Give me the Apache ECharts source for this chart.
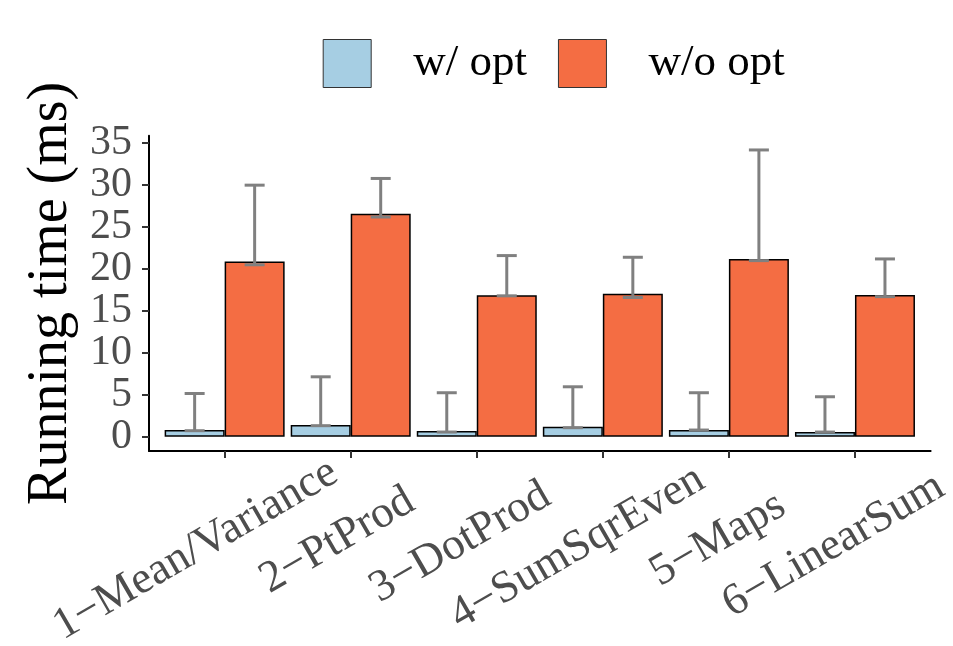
<!DOCTYPE html>
<html>
<head>
<meta charset="utf-8">
<script src="https://cdn.jsdelivr.net/npm/echarts@6/dist/echarts.min.js"></script>
<style>html,body{margin:0;padding:0;background:#fff}#c{width:953px;height:646px}</style>
</head>
<body>
<div id="c"></div>
<script>
const categories = ['1−Mean/Variance', '2−PtProd', '3−DotProd', '4−SumSqrEven', '5−Maps', '6−LinearSum'];
const seriesNames = ['w/ opt', 'w/o opt'];
const wOpt    = [0.79, 1.38, 0.67, 1.19, 0.79, 0.55];
const wOptLo  = [0.71, 1.31, 0.55, 1.07, 0.79, 0.55];
const wOptHi  = [5.15, 7.14, 5.24, 5.95, 5.24, 4.76];
const woOpt   = [20.9, 26.6, 16.86, 17.06, 21.2, 16.9];
const woOptLo = [20.5, 26.2, 16.8, 16.6, 21.0, 16.7];
const woOptHi = [30.0, 30.8, 21.6, 21.4, 34.2, 21.2];
const yTicks  = [0, 5, 10, 15, 20, 25, 30, 35];

const FONT = '"Liberation Serif", "Times New Roman", serif';
const BAR_W = 60;
const CAP = 20;
const XFS = 45;
const H = 0.62;   // fraction along label text that sits on the tick
const SHIFT = 5;  // extra shift along the label direction (px)

const xPos = categories.map((c, i) => i + 1);

const ctx = document.createElement('canvas').getContext('2d');
ctx.font = XFS + 'px ' + FONT;
const rich = {};
categories.forEach((c, i) => {
  const w = ctx.measureText(c).width;
  const diff = 2 * SHIFT - (2 * H - 1) * w; // L - R
  const L = diff > 0 ? diff : 0;
  const R = diff < 0 ? -diff : 0;
  rich['r' + i] = { fontSize: XFS, fontFamily: FONT, color: '#4D4D4D', padding: [0, R, 0, L] };
});

function errSeries(name, lo, hi, side) {
  return {
    type: 'custom',
    name: name,
    z: 5,
    data: xPos.map((x, i) => [x, lo[i], hi[i]]),
    encode: { x: 0, y: [1, 2] },
    renderItem: function (params, api) {
      const x = api.value(0);
      const pLo = api.coord([x, api.value(1)]);
      const pHi = api.coord([x, api.value(2)]);
      const cx = pLo[0] + side * BAR_W / 2;
      const st = { stroke: '#808080', lineWidth: 3 };
      return {
        type: 'group',
        children: [
          { type: 'line', shape: { x1: cx, y1: pLo[1], x2: cx, y2: pHi[1] }, style: st },
          { type: 'line', shape: { x1: cx - CAP / 2, y1: pHi[1], x2: cx + CAP / 2, y2: pHi[1] }, style: st },
          { type: 'line', shape: { x1: cx - CAP / 2, y1: pLo[1], x2: cx + CAP / 2, y2: pLo[1] }, style: st }
        ]
      };
    }
  };
}

const chart = echarts.init(document.getElementById('c'), null, { renderer: 'canvas' });
chart.setOption({
  animation: false,
  backgroundColor: '#fff',
  legend: {
    data: seriesNames,
    left: 317.7,
    top: 34,
    icon: 'rect',
    itemWidth: 48,
    itemHeight: 48,
    itemGap: 31,
    itemStyle: { borderColor: '#333', borderWidth: 1 },
    textStyle: { fontFamily: FONT, fontSize: 45, color: '#000', padding: [0, 0, 0, 37] }
  },
  grid: { left: 149, right: 22.4, top: 135.7, bottom: 195, containLabel: false, outerBoundsMode: 'none' },
  xAxis: {
    type: 'value',
    min: 0.4,
    max: 6.6,
    splitLine: { show: false },
    axisLine: { show: true, onZero: false, lineStyle: { color: '#000', width: 2 } },
    axisTick: { show: true, customValues: xPos, length: 7, lineStyle: { color: '#333', width: 2 } },
    axisLabel: {
      customValues: xPos,
      rotate: 30,
      align: 'center',
      verticalAlign: 'middle',
      margin: 82,
      hideOverlap: false,
      rich: rich,
      formatter: function (v) {
        const i = Math.round(v) - 1;
        return '{r' + i + '|' + categories[i] + '}';
      }
    }
  },
  yAxis: {
    type: 'value',
    min: -1.71,
    max: 35.9,
    name: 'Running time (ms)',
    nameLocation: 'middle',
    nameGap: 70,
    nameRotate: 90,
    nameTextStyle: { fontFamily: FONT, fontSize: 56, color: '#000' },
    splitLine: { show: false },
    axisLine: { show: true, onZero: false, lineStyle: { color: '#000', width: 2 } },
    axisTick: { show: true, customValues: yTicks, length: 7, lineStyle: { color: '#333', width: 2 } },
    axisLabel: {
      customValues: yTicks,
      showMinLabel: true,
      showMaxLabel: true,
      hideOverlap: false,
      margin: 17,
      fontFamily: FONT,
      fontSize: 42,
      color: '#4D4D4D'
    }
  },
  series: [
    {
      type: 'bar', name: seriesNames[0], barWidth: BAR_W, barGap: '0%',
      itemStyle: { color: '#A6CEE3', borderColor: '#000', borderWidth: 1.5 },
      data: xPos.map((x, i) => [x, wOpt[i]])
    },
    {
      type: 'bar', name: seriesNames[1], barWidth: BAR_W, barGap: '0%',
      itemStyle: { color: '#F46D43', borderColor: '#000', borderWidth: 1.5 },
      data: xPos.map((x, i) => [x, woOpt[i]])
    },
    errSeries('err-w', wOptLo, wOptHi, -1),
    errSeries('err-wo', woOptLo, woOptHi, 1)
  ]
});
</script>
</body>
</html>
